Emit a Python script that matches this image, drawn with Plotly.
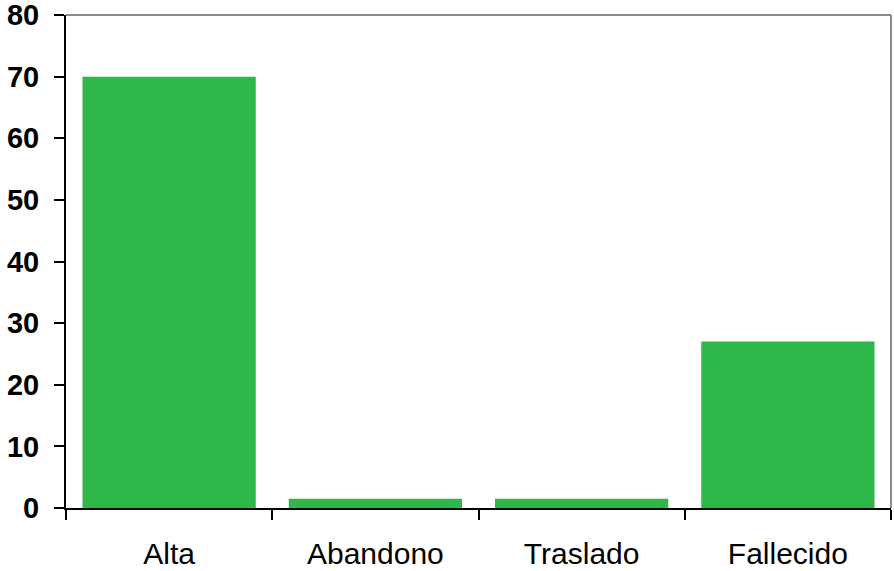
import plotly.graph_objects as go

categories = ["Alta", "Abandono", "Traslado", "Fallecido"]
values = [70, 1.5, 1.5, 27]
y_ticks = [0, 10, 20, 30, 40, 50, 60, 70, 80]

fig = go.Figure()
fig.add_trace(go.Bar(x=categories, y=values, marker=dict(color="#2fb84a", line=dict(width=0)),
                     hoverinfo="x+y"))

fig.update_layout(
    width=894, height=571,
    margin=dict(l=66, r=3, t=15, b=63),
    paper_bgcolor="white", plot_bgcolor="white",
    bargap=0.16,
    showlegend=False,
    font=dict(family="Liberation Sans, Arial, sans-serif", color="black"),
)
fig.update_xaxes(
    type="category", range=[-0.5, 3.5], tickson="boundaries",
    showline=True, linecolor="black", linewidth=2,
    ticks="outside", ticklen=10, tickwidth=2, tickcolor="black",
    tickfont=dict(size=30, family="Liberation Sans, Arial, sans-serif", color="black"),
    ticklabelstandoff=18, automargin=False,
    showgrid=False, zeroline=False,
)
fig.update_yaxes(
    range=[0, 80], tickvals=y_ticks,
    showline=True, linecolor="black", linewidth=2,
    ticks="outside", ticklen=10, tickwidth=2, tickcolor="black",
    tickfont=dict(size=29, family="Liberation Sans, Arial, sans-serif", color="black", weight="bold"),
    ticklabelstandoff=9, ticklabeloverflow="allow", automargin=False,
    showgrid=False, zeroline=False,
)
fig.add_shape(type="line", xref="paper", yref="paper", x0=0, x1=1, y0=1, y1=1,
              line=dict(color="#8c8c8c", width=2))
fig.add_shape(type="line", xref="paper", yref="paper", x0=1, x1=1, y0=0, y1=1,
              line=dict(color="#8c8c8c", width=2))

fig.write_html("out.html")
